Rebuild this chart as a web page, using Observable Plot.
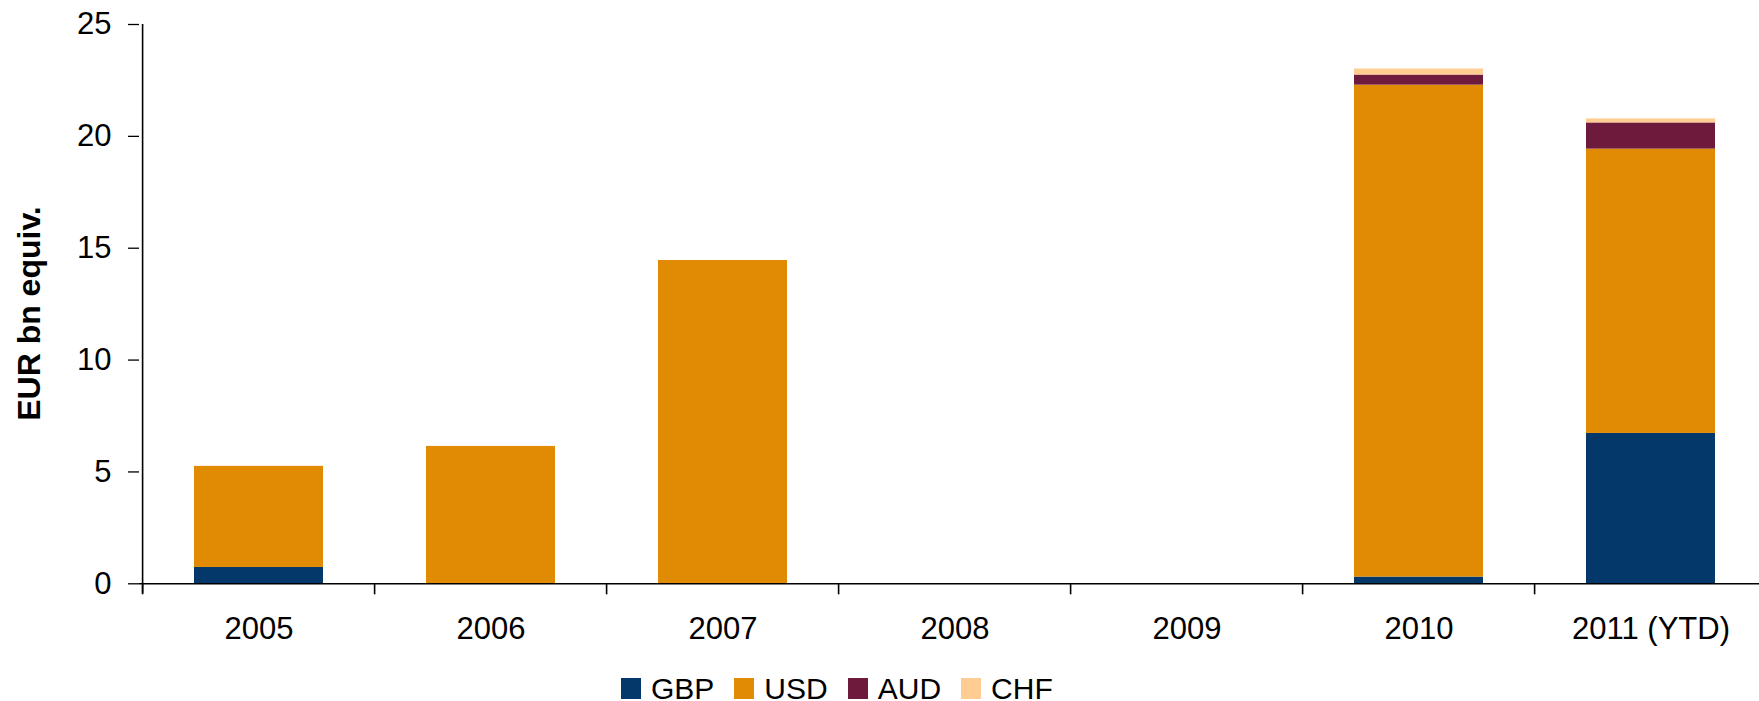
<!DOCTYPE html>
<html>
<head>
<meta charset="utf-8">
<script src="https://cdn.jsdelivr.net/npm/d3@7"></script>
<script src="https://cdn.jsdelivr.net/npm/@observablehq/plot@0.6"></script>
<style>
  html, body { margin: 0; padding: 0; background: #fff; overflow: hidden; }
  #chart { font-family: "Liberation Sans", Arial, sans-serif; }
  .legend { display: flex; align-items: center; height: 77px; padding-left: 621px;
            font-family: "Liberation Sans", Arial, sans-serif; font-size: 30px; color: #000; }
  .legend .sw { width: 20px; height: 21px; margin-right: 10px; }
  .legend .lb { margin-right: 20px; line-height: 1; }
</style>
</head>
<body>
<div id="chart"></div>
<script>
const years = ["2005", "2006", "2007", "2008", "2009", "2010", "2011 (YTD)"];
const currencies = ["GBP", "USD", "AUD", "CHF"];
const colors = ["#04376A", "#E18B05", "#6E1A3D", "#FFCC92"];
const gbp = [0.73, 0, 0, 0, 0, 0.30, 6.72];
const usd = [4.52, 6.14, 14.45, 0, 0, 21.99, 12.71];
const aud = [0, 0, 0, 0, 0, 0.45, 1.17];
const chf = [0, 0, 0, 0, 0, 0.27, 0.18];
const yTicks = [0, 5, 10, 15, 20, 25];
const yTitle = "EUR bn equiv.";

const series = [gbp, usd, aud, chf];
const rows = currencies.flatMap((c, j) => years.map((y, i) => ({year: y, currency: c, value: series[j][i]})));

const W = 1759, H = 650;
const left = 139, step = 232.8;
const base = 583.3;

const plot = Plot.plot({
  width: W, height: H,
  marginTop: 24, marginBottom: H - base, marginLeft: left, marginRight: 0,
  style: {fontFamily: "Liberation Sans, Arial, sans-serif", fontSize: "30px", color: "#000", background: "#fff", overflow: "visible"},
  x: {domain: years, range: [left, left + years.length * step], paddingInner: 0.446, paddingOuter: 0.223},
  y: {domain: [0, 25]},
  color: {domain: currencies, range: colors},
  marks: [
    Plot.barY(rows, {x: "year", y: "value", fill: "currency", order: currencies}),
    Plot.ruleY([0], {stroke: "#000", strokeWidth: 1.6}),
    Plot.ruleX([years[0]], {x: d => d, dx: -step / 2, y1: 25, y2: 0, insetBottom: -10, stroke: "#000", strokeWidth: 1.6}),
    Plot.ruleX(years, {x: d => d, dx: -step / 2, y1: 0, y2: 0, insetBottom: -11, stroke: "#000", strokeWidth: 1.6}),
    Plot.axisY({ticks: yTicks, tickSize: 11, tickPadding: 17, tickFormat: d => String(d), fontSize: 31, label: null, stroke: "#000", strokeWidth: 1.3}),
    Plot.axisX({tickSize: 0, tickPadding: 33, fontSize: 31, label: null}),
    Plot.text([yTitle], {frameAnchor: "left", rotate: -90, dx: -100, dy: 9.4, textAnchor: "middle", fontWeight: "bold", fontSize: 32, lineAnchor: "bottom", fill: "#000"})
  ]
});
document.getElementById("chart").appendChild(plot);

const legend = document.createElement("div");
legend.className = "legend";
currencies.forEach((c, i) => {
  const sw = document.createElement("span");
  sw.className = "sw";
  sw.style.background = colors[i];
  const lb = document.createElement("span");
  lb.className = "lb";
  lb.textContent = c;
  legend.appendChild(sw);
  legend.appendChild(lb);
});
document.getElementById("chart").appendChild(legend);
</script>
</body>
</html>
